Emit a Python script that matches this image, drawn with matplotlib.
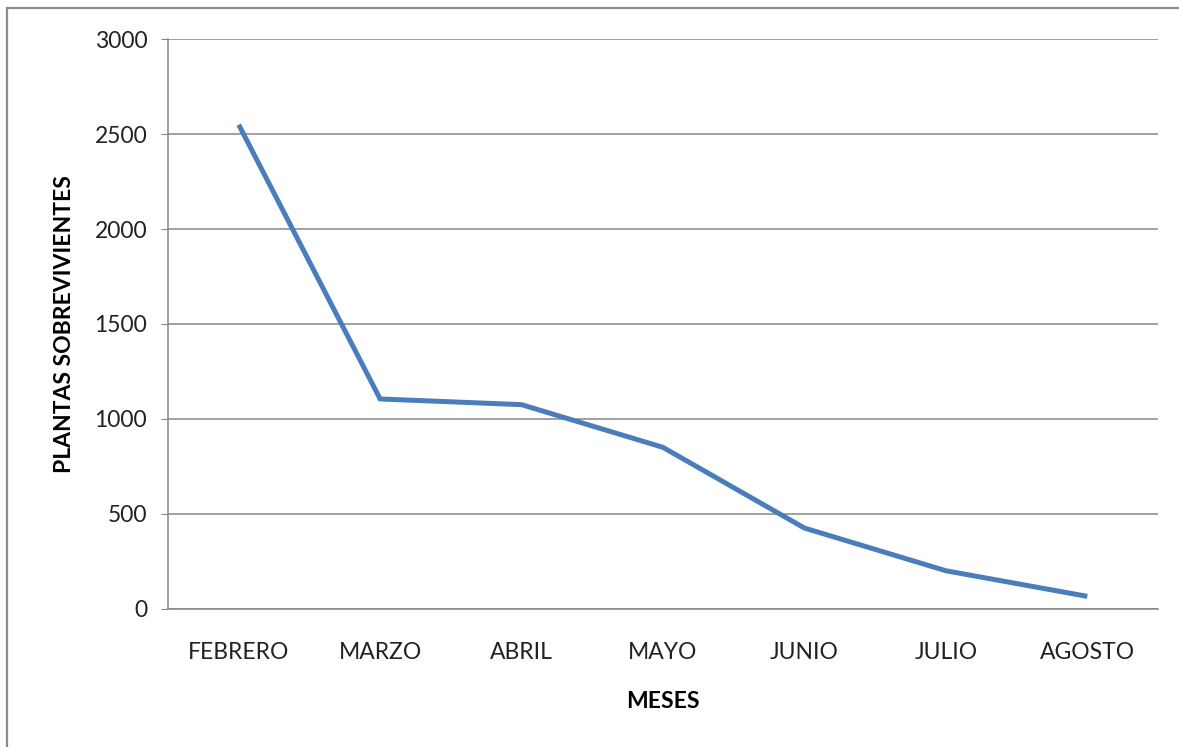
import matplotlib.pyplot as plt
from matplotlib.patches import Rectangle

# Plantas sobrevivientes por mes
meses = ["FEBRERO", "MARZO", "ABRIL", "MAYO", "JUNIO", "JULIO", "AGOSTO"]
plantas = [2550, 1105, 1075, 850, 425, 200, 65]
yticks = [0, 500, 1000, 1500, 2000, 2500, 3000]

plt.rcParams['font.family'] = ['Lato', 'DejaVu Sans']

W, H = 1179, 747
fig = plt.figure(figsize=(W / 100, H / 100), dpi=100)

# marco exterior del gráfico
fig.patches.append(Rectangle((7 / W, -0.05), 1.1, 1 - 8 / H + 0.05,
                             transform=fig.transFigure, fill=False,
                             edgecolor='#8c8c8c', linewidth=1.6))

ax = fig.add_axes([168 / W, 1 - 608.7 / H, (1158 - 168) / W, (608.7 - 39.3) / H])

x = range(len(meses))
ax.plot(x, plantas, color='#4a7ebb', linewidth=3.6, solid_capstyle='butt',
        solid_joinstyle='miter')

ax.set_xlim(-0.5, len(meses) - 0.5)
ax.set_ylim(0, 3000)
ax.set_yticks(yticks)
ax.set_xticks(list(x))
ax.set_xticklabels(meses)

ax.grid(axis='y', color='#868686', linewidth=1.1)
ax.set_axisbelow(True)
for s in ['top', 'right']:
    ax.spines[s].set_visible(False)
for s in ['left', 'bottom']:
    ax.spines[s].set_color('#868686')
    ax.spines[s].set_linewidth(1.1)

ax.tick_params(axis='y', length=5, color='#868686', labelsize=16.5, pad=10,
               labelcolor='#222222')
ax.tick_params(axis='x', length=0, labelsize=16.5, pad=24, labelcolor='#222222')

ax.set_xlabel("MESES", fontsize=16.5, fontweight='bold', labelpad=20)
ax.set_ylabel("PLANTAS SOBREVIVIENTES", fontsize=16.5, fontweight='bold', labelpad=14)

fig.savefig("out.png", dpi=100)
